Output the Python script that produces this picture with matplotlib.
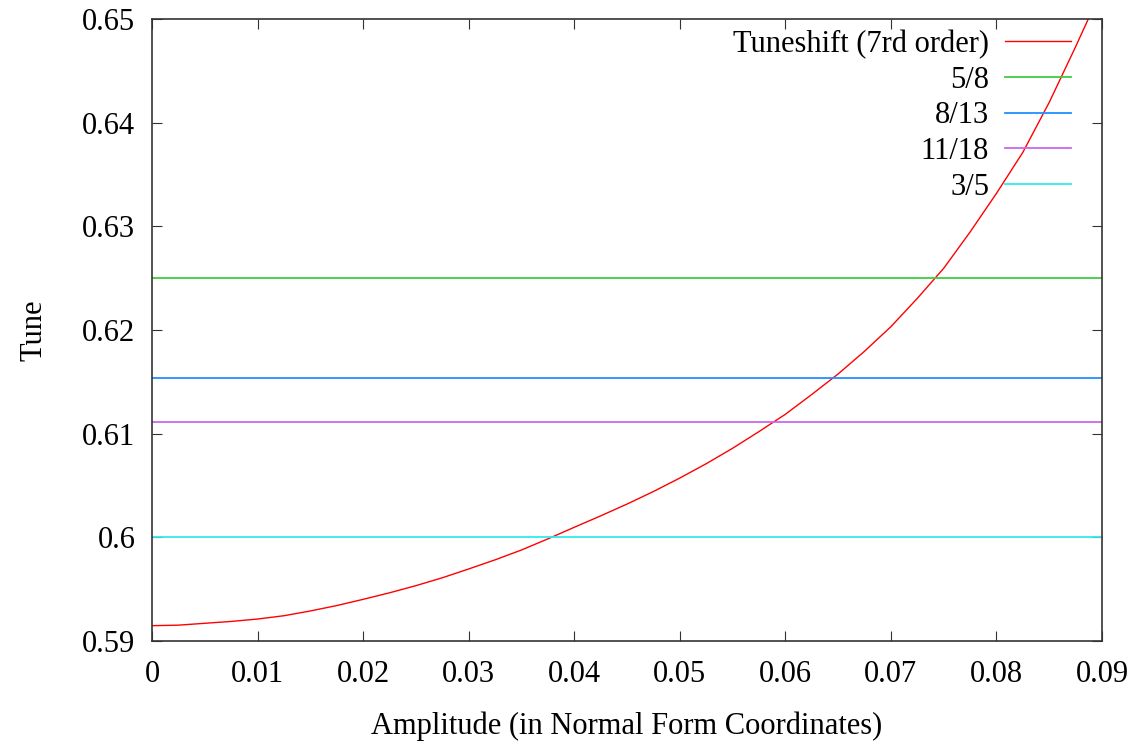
import matplotlib
matplotlib.use('Agg')
import matplotlib.pyplot as plt

# amplitude vs tune
amp = [0, 0.0025, 0.005, 0.0075, 0.01, 0.0125, 0.015, 0.0175, 0.02, 0.0225,
       0.025, 0.0275, 0.03, 0.0325, 0.035, 0.0375, 0.04, 0.0425, 0.045, 0.0475,
       0.05, 0.0525, 0.055, 0.0575, 0.06, 0.0625, 0.065, 0.0675, 0.07, 0.0725,
       0.075, 0.0775, 0.08, 0.0825, 0.085, 0.0875, 0.0887, 0.09]
tune = [0.59148, 0.59153, 0.59171, 0.59189, 0.59212, 0.59244, 0.59290, 0.59342,
        0.59402, 0.59465, 0.59534, 0.59610, 0.59695, 0.59783, 0.59878, 0.59985,
        0.60097, 0.60207, 0.60321, 0.60442, 0.60572, 0.60710, 0.60859, 0.61020,
        0.61187, 0.61378, 0.61576, 0.61795, 0.62032, 0.62305, 0.62595, 0.62945,
        0.63318, 0.63714, 0.64196, 0.64733, 0.65000, 0.65300]

# resonance lines
res_labels = ['5/8', '8/13', '11/18', '3/5']
res_values = [5 / 8, 8 / 13, 11 / 18, 3 / 5]
res_colors = ['#40cc40', '#2090ff', '#cc66ee', '#30eaea']

plt.rcParams['font.family'] = ['Liberation Serif', 'DejaVu Serif']

fig = plt.figure(figsize=(11.42, 7.5), dpi=100)
ax = fig.add_axes([0.1331, 0.1453, 0.8319, 0.8294])

ax.plot(amp, tune, color='#ff0000', lw=1.0, label='Tuneshift (7rd order)')
for lab, v, c in zip(res_labels, res_values, res_colors):
    ax.axhline(v, color=c, lw=1.3, label=lab)

ax.set_xlim(0, 0.09)
ax.set_ylim(0.59, 0.65)
ax.set_xticks([i * 0.01 for i in range(10)])
ax.set_xticklabels(['0', '0.01', '0.02', '0.03', '0.04', '0.05', '0.06', '0.07', '0.08', '0.09'])
ax.set_yticks([0.59, 0.6, 0.61, 0.62, 0.63, 0.64, 0.65])
ax.set_yticklabels(['0.59', '0.6', '0.61', '0.62', '0.63', '0.64', '0.65'])
ax.tick_params(axis='x', pad=14)
ax.tick_params(axis='y', pad=12)
ax.tick_params(direction='in', length=7, width=0.8, labelsize=22,
               top=True, right=True, colors='#333333', labelcolor='black')
for s in ax.spines.values():
    s.set_color('#333333')
    s.set_linewidth(1.2)

ax.set_xlabel('Amplitude (in Normal Form Coordinates)', fontsize=22, labelpad=16)
ax.set_ylabel('Tune', fontsize=22, labelpad=24)

ax.legend(loc='upper right', bbox_to_anchor=(0.967, 0.983), frameon=False,
          markerfirst=False, fontsize=22, handlelength=2.15, handletextpad=0.52,
          labelspacing=0.22, borderpad=0.0, borderaxespad=0.0)

fig.savefig('out.png', dpi=100)
plt.close(fig)
